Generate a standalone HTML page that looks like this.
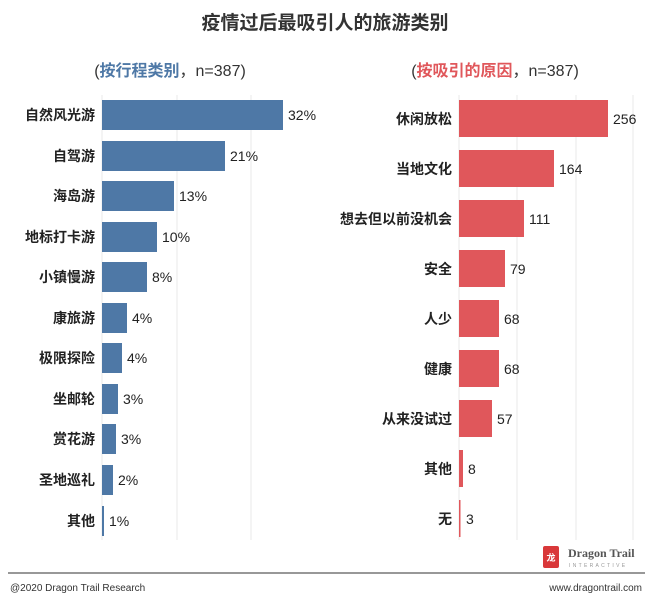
<!DOCTYPE html>
<html><head><meta charset="utf-8"><style>
body{margin:0;background:#fff;width:650px;height:602px;overflow:hidden;font-family:"Liberation Sans","Noto Sans CJK SC",sans-serif;}
svg text{font-family:"Liberation Sans","Noto Sans CJK SC",sans-serif;}
</style></head><body>
<svg width="650" height="602" xmlns="http://www.w3.org/2000/svg">
<text x="325" y="29" text-anchor="middle" font-size="19" font-weight="bold" fill="#333">疫情过后最吸引人的旅游类别</text>
<text x="170" y="76" text-anchor="middle" font-size="16" fill="#333">(<tspan fill="#4e78a6" font-weight="bold">按行程类别</tspan>，n=387)</text>
<text x="495" y="76" text-anchor="middle" font-size="16" fill="#333">(<tspan fill="#e0575b" font-weight="bold">按吸引的原因</tspan>，n=387)</text>
<g stroke="#e8e8e8" stroke-width="1">
<line x1="102" y1="95" x2="102" y2="540"/><line x1="177" y1="95" x2="177" y2="540"/><line x1="251" y1="95" x2="251" y2="540"/>
<line x1="459" y1="95" x2="459" y2="540"/><line x1="517" y1="95" x2="517" y2="540"/><line x1="576" y1="95" x2="576" y2="540"/><line x1="633" y1="95" x2="633" y2="540"/>
</g>
<g fill="#4e78a6">
<rect x="102" y="100" width="181" height="30"/>
<rect x="102" y="141" width="123" height="30"/>
<rect x="102" y="181" width="72" height="30"/>
<rect x="102" y="222" width="55" height="30"/>
<rect x="102" y="262" width="45" height="30"/>
<rect x="102" y="303" width="25" height="30"/>
<rect x="102" y="343" width="20" height="30"/>
<rect x="102" y="384" width="16" height="30"/>
<rect x="102" y="424" width="14" height="30"/>
<rect x="102" y="465" width="11" height="30"/>
<rect x="102" y="506" width="2" height="30"/>
</g>
<g font-size="14" font-weight="bold" fill="#222" text-anchor="end">
<text x="95" y="120">自然风光游</text><text x="95" y="161">自驾游</text><text x="95" y="201">海岛游</text><text x="95" y="242">地标打卡游</text><text x="95" y="282">小镇慢游</text><text x="95" y="323">康旅游</text><text x="95" y="363">极限探险</text><text x="95" y="404">坐邮轮</text><text x="95" y="444">赏花游</text><text x="95" y="485">圣地巡礼</text><text x="95" y="526">其他</text>
</g>
<g font-size="14" fill="#222">
<text x="288" y="120">32%</text><text x="230" y="161">21%</text><text x="179" y="201">13%</text><text x="162" y="242">10%</text><text x="152" y="282">8%</text><text x="132" y="323">4%</text><text x="127" y="363">4%</text><text x="123" y="404">3%</text><text x="121" y="444">3%</text><text x="118" y="485">2%</text><text x="109" y="526">1%</text>
</g>
<g fill="#e0575b">
<rect x="459" y="100" width="149" height="37"/>
<rect x="459" y="150" width="95" height="37"/>
<rect x="459" y="200" width="65" height="37"/>
<rect x="459" y="250" width="46" height="37"/>
<rect x="459" y="300" width="40" height="37"/>
<rect x="459" y="350" width="40" height="37"/>
<rect x="459" y="400" width="33" height="37"/>
<rect x="459" y="450" width="4" height="37"/>
<rect x="459" y="500" width="1.5" height="37"/>
</g>
<g font-size="14" font-weight="bold" fill="#222" text-anchor="end">
<text x="452" y="124">休闲放松</text><text x="452" y="174">当地文化</text><text x="452" y="224">想去但以前没机会</text><text x="452" y="274">安全</text><text x="452" y="324">人少</text><text x="452" y="374">健康</text><text x="452" y="424">从来没试过</text><text x="452" y="474">其他</text><text x="452" y="524">无</text>
</g>
<g font-size="14" fill="#222">
<text x="613" y="124">256</text><text x="559" y="174">164</text><text x="529" y="224">111</text><text x="510" y="274">79</text><text x="504" y="324">68</text><text x="504" y="374">68</text><text x="497" y="424">57</text><text x="468" y="474">8</text><text x="466" y="524">3</text>
</g>
<rect x="543" y="546" width="16" height="22" rx="2" fill="#d9383a"/>
<text x="551" y="561" text-anchor="middle" font-size="9" fill="#fff" font-weight="bold">龙</text>
<text x="568" y="557" font-size="12" font-weight="bold" fill="#555" style="font-family:'Liberation Serif',serif">Dragon Trail</text>
<text x="569" y="567" font-size="5" fill="#999" letter-spacing="2.3">INTERACTIVE</text>
<line x1="8" y1="573" x2="645" y2="573" stroke="#777" stroke-width="1.5"/>
<text x="10" y="591" font-size="10" fill="#333">@2020 Dragon Trail Research</text>
<text x="642" y="591" font-size="10" fill="#333" text-anchor="end">www.dragontrail.com</text>
</svg>
</body></html>
